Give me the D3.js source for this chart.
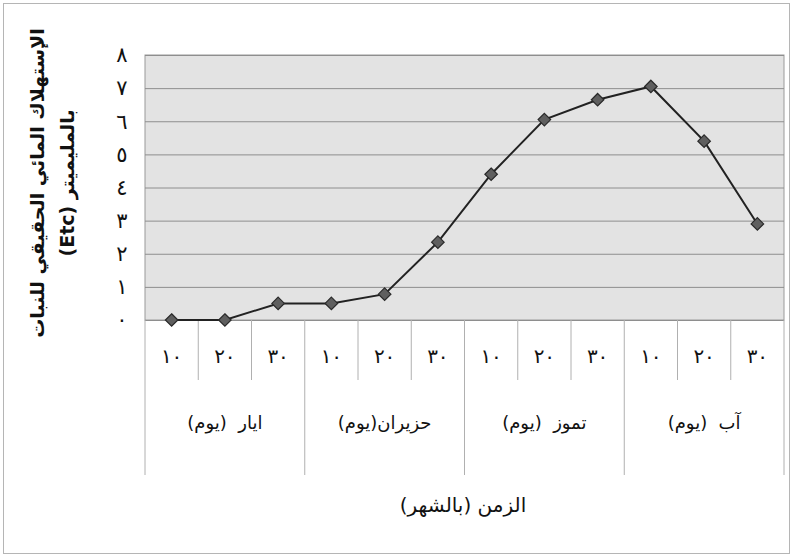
<!DOCTYPE html>
<html>
<head>
<meta charset="utf-8">
<script src="https://cdn.jsdelivr.net/npm/d3@7"></script>
<style>
  html, body { margin: 0; padding: 0; background: #fff; }
  svg { display: block; }
  text { font-family: "DejaVu Sans", "Noto Sans", sans-serif; fill: #111; }
</style>
</head>
<body>
<svg id="chart" width="794" height="559"></svg>
<script>
// Actual crop water consumption (Etc, mm) per ten-day period
const days = ["١٠", "٢٠", "٣٠"];
const months = ["ايار", "حزيران", "تموز", "آب"];
const monthLabels = ["ايار  (يوم)", "حزيران(يوم)", "تموز  (يوم)", "آب  (يوم)"];
const etcValues = [0, 0, 0.5, 0.5, 0.78, 2.35, 4.4, 6.05, 6.65, 7.05, 5.4, 2.9];
const yTicks = [0, 1, 2, 3, 4, 5, 6, 7, 8];
const yTickLabels = ["٠", "١", "٢", "٣", "٤", "٥", "٦", "٧", "٨"];
const yTitle1 = "الإستهلاك المائي الحقيقي للنبات";
const yTitle2 = "بالمليميتر (Etc)";
const xTitle = "الزمن (بالشهر)";

const periods = [];
months.forEach((m, mi) => days.forEach((d, di) => periods.push({ key: mi + "-" + di, month: mi, day: d })));

const svg = d3.select("#chart");
const plot = { left: 145, right: 784, top: 55, bottom: 320 };

// outer frame
svg.append("rect")
  .attr("x", 3.5).attr("y", 3.5).attr("width", 786).attr("height", 550)
  .attr("fill", "none").attr("stroke", "#b5b5b5").attr("stroke-width", 1);

const x = d3.scaleBand().domain(periods.map(p => p.key)).range([plot.left, plot.right]).padding(0);
const xMonth = d3.scaleBand().domain(months).range([plot.left, plot.right]).padding(0);
const y = d3.scaleLinear().domain([0, 8]).range([plot.bottom, plot.top]);

// plot background
svg.append("rect")
  .attr("x", plot.left).attr("y", plot.top)
  .attr("width", plot.right - plot.left).attr("height", plot.bottom - plot.top)
  .attr("fill", "#e3e3e3").attr("stroke", "#9a9a9a").attr("stroke-width", 1);

// horizontal gridlines
const yAxis = d3.axisLeft(y).tickValues(yTicks).tickSize(-(plot.right - plot.left)).tickFormat("");
const gy = svg.append("g").attr("transform", `translate(${plot.left},0)`).call(yAxis);
gy.select(".domain").remove();
gy.selectAll(".tick line").attr("stroke", "#8e8e8e").attr("stroke-width", 1);

// y tick labels
svg.append("g").selectAll("text").data(yTicks).join("text")
  .attr("x", 122).attr("y", d => y(d))
  .attr("dy", "0.35em")
  .attr("text-anchor", "middle")
  .attr("font-size", 21)
  .text((d, i) => yTickLabels[i]);

// category separators below the plot
const boundaries = d3.range(periods.length + 1).map(i => plot.left + i * x.bandwidth());
svg.append("g").selectAll("line").data(boundaries).join("line")
  .attr("x1", d => d).attr("x2", d => d)
  .attr("y1", plot.bottom)
  .attr("y2", (d, i) => i % 3 === 0 ? 475 : 380)
  .attr("stroke", "#b0b0b0").attr("stroke-width", 1);

// day labels
svg.append("g").selectAll("text").data(periods).join("text")
  .attr("x", d => x(d.key) + x.bandwidth() / 2)
  .attr("y", 356)
  .attr("dy", "0.35em")
  .attr("text-anchor", "middle")
  .attr("font-size", 20)
  .text(d => d.day);

// month labels
svg.append("g").selectAll("text").data(months).join("text")
  .attr("x", d => xMonth(d) + xMonth.bandwidth() / 2)
  .attr("y", 423)
  .attr("dy", "0.35em")
  .attr("text-anchor", "middle")
  .attr("direction", "rtl")
  .attr("xml:space", "preserve")
  .style("white-space", "pre")
  .attr("font-size", 18)
  .text((d, i) => monthLabels[i]);

// data line
const line = d3.line()
  .x((d, i) => x(periods[i].key) + x.bandwidth() / 2)
  .y(d => y(d));
svg.append("path").datum(etcValues)
  .attr("d", line)
  .attr("fill", "none").attr("stroke", "#222").attr("stroke-width", 2);

// diamond markers
const diamond = d3.symbol().type(d3.symbolDiamond2).size(100);
svg.append("g").selectAll("path").data(etcValues).join("path")
  .attr("transform", (d, i) => `translate(${x(periods[i].key) + x.bandwidth() / 2},${y(d)})`)
  .attr("d", diamond)
  .attr("fill", "#5f5f5f").attr("stroke", "#2a2a2a").attr("stroke-width", 1.2);

// y axis title (two rotated lines)
const yt = svg.append("g").attr("transform", "translate(0,183)");
yt.append("text")
  .attr("transform", "translate(37,0) rotate(-90)")
  .attr("dy", "0.35em")
  .attr("text-anchor", "middle").attr("direction", "rtl")
  .attr("font-size", 19).attr("font-weight", "bold")
  .text(yTitle1);
yt.append("text")
  .attr("transform", "translate(67,0) rotate(-90)")
  .attr("dy", "0.35em")
  .attr("text-anchor", "middle").attr("direction", "rtl")
  .attr("font-size", 19).attr("font-weight", "bold")
  .text(yTitle2);

// x axis title
svg.append("text")
  .attr("x", 463).attr("y", 505)
  .attr("dy", "0.35em")
  .attr("text-anchor", "middle").attr("direction", "rtl")
  .attr("font-size", 20)
  .text(xTitle);
</script>
</body>
</html>
